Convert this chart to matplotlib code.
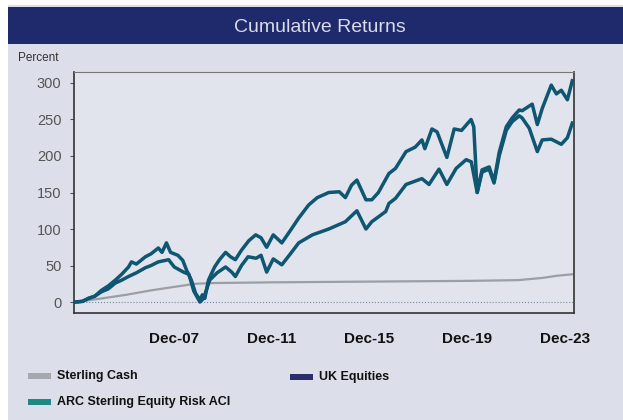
import matplotlib
matplotlib.use("Agg")
import matplotlib.pyplot as plt
from matplotlib.patches import Rectangle

plt.rcParams['font.family'] = ['Liberation Sans', 'DejaVu Sans']

# values (decimal year, cumulative % return)
uk_t = [2003.92, 2004.2, 2004.44, 2004.7, 2004.97, 2005.25, 2005.54, 2005.8, 2006.08, 2006.2,
        2006.4, 2006.77, 2007.0, 2007.3, 2007.45, 2007.63, 2007.8, 2008.1, 2008.3, 2008.45,
        2008.65, 2008.82, 2009.0, 2009.1, 2009.2, 2009.35, 2009.6, 2009.8, 2010.05, 2010.25,
        2010.45, 2010.7, 2011.0, 2011.28, 2011.5, 2011.73, 2012.0, 2012.35, 2012.7, 2013.04,
        2013.45, 2013.8, 2014.27, 2014.7, 2014.95, 2015.2, 2015.42, 2015.79, 2016.03, 2016.3,
        2016.73, 2017.0, 2017.43, 2017.8, 2018.08, 2018.2, 2018.49, 2018.7, 2019.1, 2019.4,
        2019.7, 2020.09, 2020.2, 2020.34, 2020.54, 2020.83, 2021.03, 2021.24, 2021.53, 2021.77,
        2022.06, 2022.18, 2022.59, 2022.8, 2023.0, 2023.37, 2023.58, 2023.78, 2024.03, 2024.23]
uk_v = [0, 1, 5, 8, 16, 22, 30, 38, 48, 55,
        52, 62, 66, 74, 68, 81, 68, 64, 57, 44,
        30, 12, 3, 10, 5, 30, 48, 58, 68, 62,
        58, 71, 84, 92, 88, 75, 92, 81, 98, 115,
        133, 143, 150, 151, 143, 160, 167, 140, 140, 150,
        176, 183, 206, 212, 222, 210, 237, 233, 198, 237,
        235, 250, 240, 150, 181, 185, 165, 205, 240, 252,
        263, 262, 271, 243, 265, 297, 285, 290, 277, 303]

arc_t = [2003.92, 2004.2, 2004.44, 2004.7, 2004.97, 2005.25, 2005.54, 2005.8, 2006.08, 2006.4,
         2006.77, 2007.0, 2007.3, 2007.72, 2007.95, 2008.33, 2008.55, 2008.75, 2009.0, 2009.15,
         2009.4, 2009.7, 2010.05, 2010.3, 2010.45, 2010.7, 2010.97, 2011.3, 2011.5, 2011.73,
         2012.0, 2012.35, 2012.7, 2013.04, 2013.6, 2014.27, 2014.95, 2015.42, 2015.79, 2016.03,
         2016.6, 2016.73, 2017.0, 2017.43, 2018.08, 2018.37, 2018.78, 2019.1, 2019.48, 2019.89,
         2020.1, 2020.34, 2020.54, 2020.83, 2021.03, 2021.24, 2021.53, 2021.77, 2022.06, 2022.18,
         2022.47, 2022.8, 2023.0, 2023.37, 2023.78, 2024.03, 2024.23]
arc_v = [0, 1, 5, 8, 14, 18, 26, 30, 35, 40,
         47, 50, 55, 58, 48, 41, 38, 15, 0, 5,
         30, 40, 48, 41, 35, 50, 62, 60, 64, 41,
         59, 51, 66, 81, 92, 100, 110, 125, 100, 110,
         124, 135, 142, 161, 169, 161, 182, 161, 183, 195,
         192, 150, 178, 182, 163, 200, 235, 247, 255, 252,
         238, 206, 222, 223, 216, 225, 245]

cash_t = [2003.92, 2005.0, 2006.0, 2007.0, 2008.0, 2008.8, 2009.5, 2012.0, 2016.0, 2020.0,
          2022.0, 2023.0, 2023.6, 2024.23]
cash_v = [0, 5, 10, 16, 21, 25, 26, 27, 28, 29, 30, 33, 36, 38]

tick_years = [2007.92, 2011.92, 2015.92, 2019.92, 2023.92]
tick_labels = ['Dec-07', 'Dec-11', 'Dec-15', 'Dec-19', 'Dec-23']

W, H = 623, 420
fig = plt.figure(figsize=(W / 100, H / 100), dpi=100)
fig.patch.set_facecolor('white')

# panel background and title bar
fig.patches.append(Rectangle((8 / W, 0), 1, 1 - 5 / H, transform=fig.transFigure,
                             facecolor='#dcdfe9', edgecolor='none', zorder=-10))
fig.patches.append(Rectangle((8 / W, 1 - 44 / H), 1, 37 / H, transform=fig.transFigure,
                             facecolor='#1f2a6c', edgecolor='none', zorder=-9))
fig.text(320 / W, 1 - 28 / H, 'Cumulative Returns', color='#d8dbe8', fontsize=14,
         ha='center', va='center')
fig.text(18 / W, 1 - 58 / H, 'Percent', color='#333333', fontsize=8.5, ha='left', va='center')

ax = fig.add_axes([74 / W, (H - 313) / H, 500 / W, 241 / H])
ax.set_facecolor('#e1e4ed')

line_col = '#0f5672'
ax.axhline(0, color='#7a8a9a', linewidth=0.8, linestyle=':', zorder=1)
ax.plot(cash_t, cash_v, color='#9c9ea6', linewidth=1.6, zorder=2)
ax.plot(arc_t, arc_v, color=line_col, linewidth=2.5, zorder=3)
ax.plot(uk_t, uk_v, color=line_col, linewidth=2.5, zorder=4)

ax.set_xlim(2003.85, 2024.3)
ax.set_ylim(-15, 315)
ax.set_yticks([0, 50, 100, 150, 200, 250, 300])
ax.set_xticks(tick_years)
ax.set_xticklabels(tick_labels)
ax.tick_params(axis='y', labelsize=10.5, colors='#555555', length=3, width=0.8, pad=6)
ax.tick_params(axis='x', labelsize=11, length=0, pad=14)
for lab in ax.get_xticklabels():
    lab.set_fontweight('bold')
    lab.set_color('#111111')
for side in ['left', 'bottom', 'right']:
    ax.spines[side].set_color('#333333')
    ax.spines[side].set_linewidth(1.2)
ax.spines['top'].set_color('#777777')

# legend drawn by hand: (patch x, row y, colour, label)
legend_items = [(28, 376, '#a6a8b0', 'Sterling Cash'),
                (28, 402, '#1c8a82', 'ARC Sterling Equity Risk ACI'),
                (290, 377, '#2a2e6c', 'UK Equities')]
for px, py, col, txt in legend_items:
    fig.patches.append(Rectangle((px / W, 1 - (py + 3) / H), 23 / W, 6 / H,
                                 transform=fig.transFigure, facecolor=col, edgecolor='none'))
    fig.text((px + 29) / W, 1 - py / H, txt, fontsize=9, fontweight='bold',
             color='#111111', ha='left', va='center')

fig.savefig('out.png', dpi=100)
